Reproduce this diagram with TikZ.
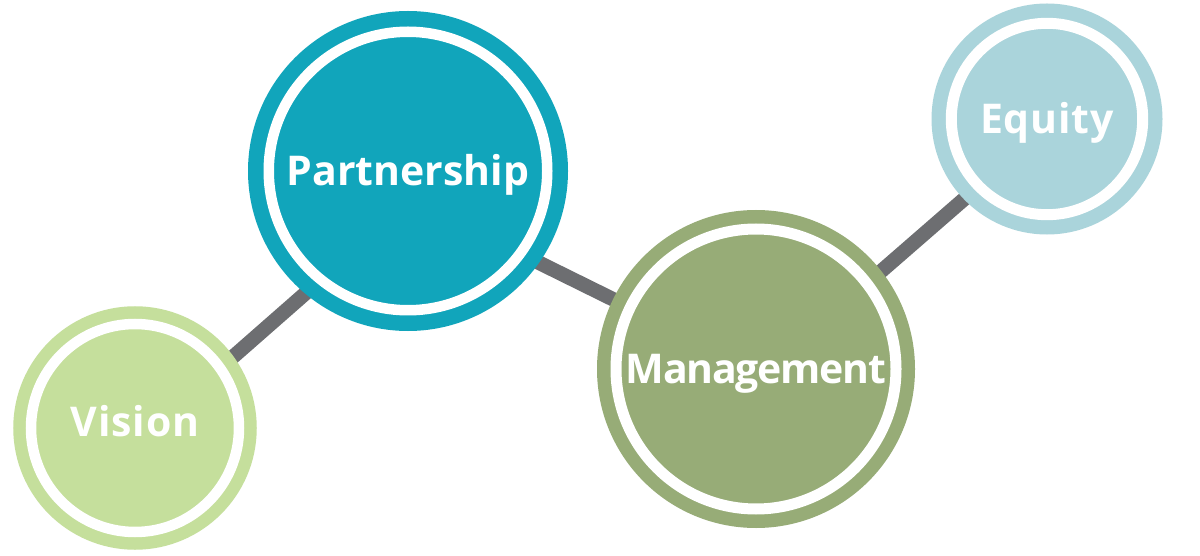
\documentclass[tikz,border=0pt]{standalone}
\usepackage{fontspec}
\setmainfont{Open Sans}
\usetikzlibrary{backgrounds}
\definecolor{visc}{HTML}{C5DF9C}
\definecolor{partc}{HTML}{11A5BB}
\definecolor{mgmtc}{HTML}{97AC77}
\definecolor{equc}{HTML}{AAD4DB}
\definecolor{linkc}{HTML}{6D6E71}
\begin{document}
\begin{tikzpicture}[x=1pt,y=1pt,
  ring/.style={circle, inner sep=0pt, double=white, text=white,
    font=\fontsize{41}{41}\selectfont\bfseries, text height=29pt, text depth=0pt},
  link/.style={draw=linkc, line width=14.5pt, shorten <=-14pt, shorten >=-14pt}]
\useasboundingbox (0,0) rectangle (1200,555);
\node[ring, fill=visc, draw=visc, line width=12.5pt, double distance=10.5pt,
  minimum size=208pt, outer sep=17.75pt] (vision) at (135,127)
  {\addfontfeature{LetterSpace=2}\raisebox{6pt}{Vision}};
\node[ring, fill=partc, draw=partc, line width=15.5pt, double distance=10.5pt,
  minimum size=278.5pt, outer sep=20.75pt] (partnership) at (408,384) {Partnership};
\node[ring, fill=mgmtc, draw=mgmtc, line width=13.5pt, double distance=11pt,
  minimum size=280pt, outer sep=19pt] (management) at (756,186)
  {\addfontfeature{LetterSpace=-3}Management};
\node[ring, fill=equc, draw=equc, line width=14.3pt, double distance=11pt,
  minimum size=191.4pt, outer sep=19.8pt] (equity) at (1047,436)
  {\addfontfeature{LetterSpace=2}Equity};
\begin{scope}[on background layer]
  \fill[white] (0,0) rectangle (1200,555);
  \draw[link] (vision.36) -- (partnership.230);
  \draw[link] (partnership.-35) -- (management.154);
  \draw[link] (management.38) -- (equity.224);
\end{scope}
\end{tikzpicture}
\end{document}
